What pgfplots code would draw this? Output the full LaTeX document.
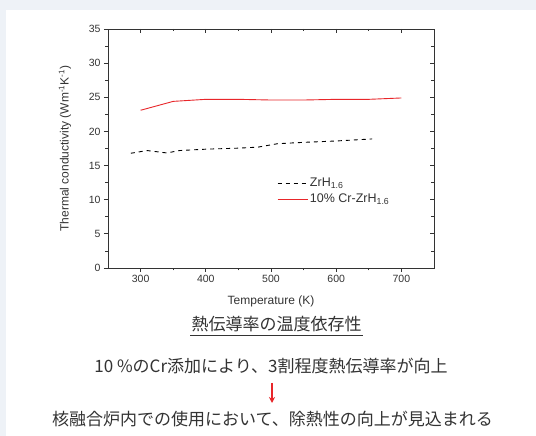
\documentclass[border=0pt]{standalone}
\usepackage{pgfplots}
\pgfplotsset{compat=1.18}
\usetikzlibrary{arrows.meta}
\usepackage{fontspec}
\setmainfont{Liberation Sans}
\newfontfamily\cjk{Noto Sans CJK JP}
\definecolor{bg}{HTML}{EEF2F7}
\definecolor{txt}{HTML}{333333}
\definecolor{redl}{HTML}{E8262A}
\begin{document}
\begin{tikzpicture}[x=1pt,y=1pt]
\fill[bg] (0,0) rectangle (536,436);
\fill[white] (6,0) rectangle (536,426);
\pgfplotsset{
  common/.style={
    at={(108pt,168pt)}, anchor=south west, scale only axis,
    width=326pt, height=239pt,
    xmin=250, xmax=750, ymin=0, ymax=35,
    xtick={300,400,...,700}, ytick={0,5,...,35},
    minor x tick num=1, minor y tick num=1,
    major tick length=4pt, minor tick length=2.5pt,
    axis line style={txt, line width=0.8pt},
    every tick/.style={txt, line width=0.8pt},
    tick label style={txt, font=\fontsize{10.5}{12}\selectfont},
    /pgf/number format/assume math mode=true,
  }
}
\begin{axis}[common,
  tick align=outside, xtick pos=bottom, ytick pos=left,
  xlabel={Temperature (K)},
  ylabel={Thermal conductivity (Wm\textsuperscript{-1}K\textsuperscript{-1})},
  label style={txt, font=\fontsize{12}{14}\selectfont},
  xlabel style={at={(axis description cs:0.5,-0.138)}, anchor=center},
  ylabel style={at={(axis description cs:-0.132,0.5)}, anchor=center},
  legend style={draw=none, fill=none, at={(0.515,0.39)}, anchor=north west,
    font=\fontsize{12.5}{14}\selectfont, row sep=2pt, inner sep=1pt},
  legend image code/.code={\draw[#1] (0pt,0pt) -- (30pt,0pt);},
  legend cell align=left,
]
\addplot[black, line width=0.9pt, dash pattern=on 4pt off 4pt] coordinates {
(285,16.8) (310,17.2) (340,16.85) (360,17.2) (400,17.4) (450,17.55)
(480,17.7) (510,18.2) (550,18.4) (600,18.6) (655,18.9)};
\addlegendentry{\textcolor{txt}{ZrH\textsubscript{1.6}}}
\addplot[redl, line width=0.9pt] coordinates {
(300,23.1) (350,24.4) (400,24.7) (450,24.7) (500,24.6) (550,24.6)
(600,24.7) (650,24.7) (700,24.9)};
\addlegendentry{\textcolor{txt}{10\% Cr-ZrH\textsubscript{1.6}}}
\end{axis}
\begin{axis}[common,
  tick align=inside, xtick pos=top, ytick pos=right,
  xticklabels={}, yticklabels={},
]
\end{axis}
\node[txt, font=\cjk\fontsize{17}{20}\selectfont, anchor=center] at (276.5,112) {熱伝導率の温度依存性};
\draw[txt, line width=0.8pt] (190,101) -- (363,101);
\node[txt, font=\cjk\fontsize{17}{20}\selectfont, anchor=center] at (271,70) {10 \%のCr添加により、3割程度熱伝導率が向上};
\draw[redl, line width=2pt, -{Stealth[length=6pt,width=6pt]}] (272,53) -- (272,33);
\node[txt, font=\cjk\fontsize{17}{20}\selectfont, anchor=center] at (272.5,17) {核融合炉内での使用において、除熱性の向上が見込まれる};
\end{tikzpicture}
\end{document}
